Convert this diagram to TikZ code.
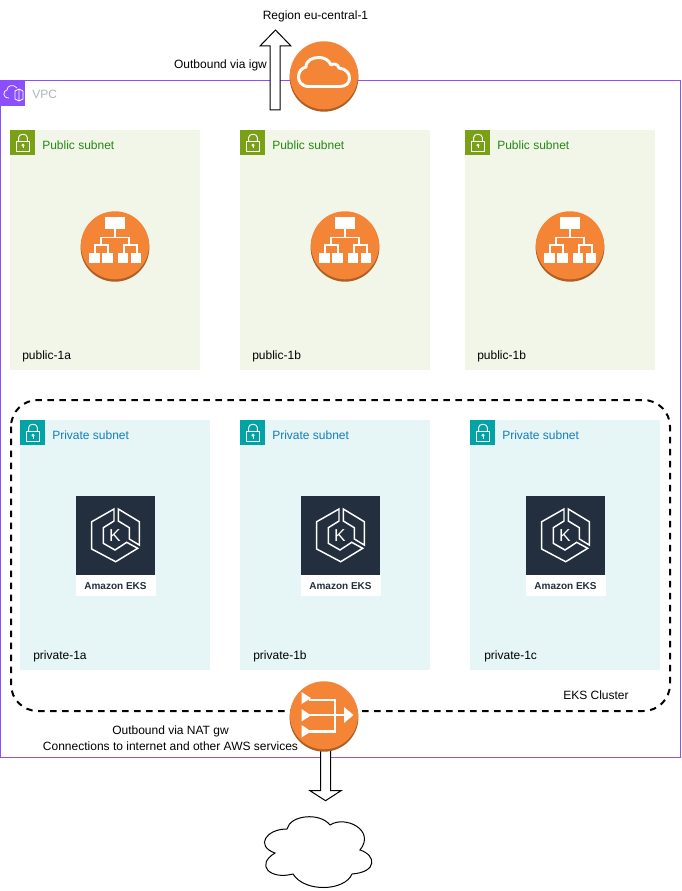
\documentclass[tikz,border=0pt]{standalone}
\usepackage{fontspec}
\setmainfont{Liberation Sans}
\usetikzlibrary{calc}
\definecolor{vpcpurple}{HTML}{8C4FFF}
\definecolor{awsorange}{HTML}{F58536}
\definecolor{awsdark}{HTML}{AE5F26}
\definecolor{pubfill}{HTML}{F2F6E8}
\definecolor{pubicon}{HTML}{7AA116}
\definecolor{pubtext}{HTML}{248814}
\definecolor{privfill}{HTML}{E6F6F7}
\definecolor{privicon}{HTML}{00A4A6}
\definecolor{privtext}{HTML}{147EBA}
\definecolor{eksnavy}{HTML}{232F3E}
\definecolor{vpcgrey}{HTML}{AAB7B8}
\tikzset{
  txt/.style={font=\fontsize{9}{11}\selectfont, inner sep=0pt, text=black, yshift=-1pt},
  lefttxt/.style={txt, anchor=west},
  subnetbox/.style={anchor=north west, inner sep=0pt, minimum width=142.5pt},
  hdricon/.style={anchor=north west, inner sep=0pt, minimum width=18.75pt, minimum height=18.75pt},
  whitestroke/.style={draw=white, line width=1.1pt, line join=miter},
  thinwhite/.style={draw=white, line width=0.7pt, line join=miter},
  orangedisc/.style={circle, fill=awsorange, inner sep=0pt, minimum size=51pt},
  blockarrow/.style={draw=black, fill=white, line width=0.75pt, line join=miter},
  lockpic/.pic={
    \draw[thinwhite] (6.3,11.3) rectangle (19.6,21.5);
    \draw[thinwhite] (8.6,11.3) -- (8.6,7.5) .. controls (8.6,3.2) and (17.3,3.2) .. (17.3,7.5) -- (17.3,11.3);
    \draw[white, line width=0.5pt] (13,15.2) circle (1.1);
    \draw[white, line width=0.5pt] (13,16.3) -- (13,18.5);
  },
  lbpic/.pic={
    \fill[white] (-9.7,-28.7) rectangle (10.3,-16.7);
    \draw[whitestroke, line width=1.2pt] (0,-16.7) -- (0,-8.7);
    \draw[whitestroke, line width=1.2pt] (-14.3,-1) -- (-14.3,-8.7) -- (14,-8.7) -- (14,-1);
    \draw[whitestroke, line width=1.2pt] (-20,8) -- (-20,-1) -- (-7.3,-1) -- (-7.3,8);
    \draw[whitestroke, line width=1.2pt] (9,8) -- (9,-1) -- (21.7,-1) -- (21.7,8);
    \fill[white] (-25.7,7.3) rectangle (-15,17.3);
    \fill[white] (-12.7,7.3) rectangle (-2.3,17.3);
    \fill[white] (3,7.3) rectangle (13.3,17.3);
    \fill[white] (16,7.3) rectangle (26.3,17.3);
  },
  ekspic/.pic={
    \draw[white, line width=1.1pt, line join=miter]
      (-1,-26) -- (-23.3,-13.3) -- (-23.3,14) -- (0.7,26.7) -- (22.7,13.3) -- (11.7,7.3)
      -- (0,15) -- (-11.7,8.3) -- (-11.7,-7.3) -- (-1,-14) -- cycle;
    \draw[white, line width=1.1pt, line join=miter]
      (3.3,-26) -- (24.3,-13.3) -- (24.3,10) -- (14.3,4) -- (14.3,-7.3) -- (3.3,-14) -- cycle;
    \node[inner sep=0pt, text=white, font=\fontsize{13}{14}\selectfont] at (0,0.5) {K};
  }
}
\newcommand{\disc}[2]{% name, position
  \fill[awsdark] ($#2+(0,1.3)$) circle (34.4);
  \node[orangedisc] (#1) at ($#2+(0,-0.7)$) {};
}
\begin{document}
\begin{tikzpicture}[x=0.75pt,y=-0.75pt]
\useasboundingbox (0,0) rectangle (681,891);
\fill[white] (0,0) rectangle (681,891);

% VPC
\draw[vpcpurple, line width=0.75pt] (0.5,80.5) rectangle (680.5,757);
\node[hdricon, fill=vpcpurple] (vpcicon) at (0,80.5) {};
\draw[white, line width=0.55pt]
  (9,98) .. controls (2,98) and (3,90.5) .. (7,90) .. controls (7,85) and (14,84) .. (17,88);
\draw[white, line width=0.55pt] (15,91) -- (19,89) -- (23,91) -- (23,99) -- (19,101) -- (15,99) -- cycle (19,89) -- (19,101);
\node[lefttxt, text=vpcgrey] (vpclabel) at (32,93.5) {VPC};

% Public subnets
\foreach \n/\x/\t in {a/10/public-1a, b/240/public-1b, c/465/public-1b}{
  \node[subnetbox, fill=pubfill, minimum height=180pt] (pub\n) at (\x,130) {};
  \node[hdricon, fill=pubicon] (pubicon\n) at (\x,130) {};
  \pic at (\x,130) {lockpic};
  \node[lefttxt, text=pubtext] (pubhead\n) at (\x+32,143.5) {Public subnet};
  \node[lefttxt] (publabel\n) at (\x+12,355) {\t};
}

% Private subnets
\foreach \n/\x/\lx/\t in {a/20/33/private-1a, b/240/253/private-1b, c/470/484/private-1c}{
  \node[subnetbox, fill=privfill, minimum height=187.5pt] (priv\n) at (\x,420) {};
  \node[hdricon, fill=privicon] (privicon\n) at (\x,420) {};
  \pic at (\x,420) {lockpic};
  \node[lefttxt, text=privtext] (privhead\n) at (\x+32,433.5) {Private subnet};
  \node[lefttxt] (privlabel\n) at (\lx,655) {\t};
}

% EKS tiles
\foreach \n/\x in {a/76, b/301, c/526}{
  \fill[white] (\x,575) rectangle (\x+79.5,596);
  \node[anchor=north west, fill=eksnavy, inner sep=0pt, minimum width=59.25pt, minimum height=59.25pt] (eks\n) at (\x,496) {};
  \pic at (\x+39,535) {ekspic};
  \node[inner sep=0pt, text=eksnavy, font=\fontsize{7.5}{9}\selectfont\bfseries] (ekslabel\n) at (\x+39.5,586.5) {Amazon EKS};
}

% EKS cluster outline
\draw[black, line width=1.5pt, rounded corners=20pt, dash pattern=on 4.8pt off 4.2pt]
  (11,400) rectangle (670,711);
\node[lefttxt] (ekscluster) at (563,694) {EKS Cluster};

% Block arrows
\coordinate (igwtail) at (275,110);
\coordinate (igwtip) at (275.5,30);
\draw[blockarrow] ($(igwtail)+(-5,0)$) -- ($(igwtip)+(-5.5,16)$) -- ($(igwtip)+(-15.5,16)$) -- (igwtip)
  -- ($(igwtip)+(15.5,16)$) -- ($(igwtip)+(4.5,16)$) -- ($(igwtail)+(5,0)$) -- cycle;
\coordinate (nattail) at (325.5,750);
\coordinate (nattip) at (325.5,800.7);
\draw[blockarrow] ($(nattail)+(-5,0)$) -- ($(nattip)+(-5,-10)$) -- ($(nattip)+(-15.5,-10)$) -- (nattip)
  -- ($(nattip)+(15.5,-10)$) -- ($(nattip)+(5,-10)$) -- ($(nattail)+(5,0)$) -- cycle;

% Internet gateway
\disc{igw}{(324,76)}
\draw[white, line width=2.2pt, line join=round]
  (309,86.5) .. controls (301,86.5) and (298.5,81) .. (298.5,77)
  .. controls (298.5,71) and (302,68) .. (306,67)
  .. controls (306,60) and (313,57.5) .. (319,57.5)
  .. controls (324,57.5) and (329,60) .. (331,65)
  .. controls (333,63) and (338,64) .. (339,68)
  .. controls (346,69) and (349.5,73) .. (349.5,78)
  .. controls (349.5,83) and (346,86.5) .. (340,86.5) -- cycle;

% Load balancers
\foreach \n/\x in {a/115, b/345, c/570}{
  \disc{lb\n}{(\x,246)}
  \pic at (\x,246) {lbpic};
}

% NAT gateway
\disc{nat}{(324,716)}
\draw[white, line width=2.2pt, line join=miter]
  (309,700) -- (335,700) -- (335,731.7) -- (309,731.7);
\draw[white, line width=2.2pt] (309,715) -- (345,715);
\fill[white] (301.5,692) -- (311,698.2) -- (301.5,704) -- cycle;
\fill[white] (301.5,709) -- (311,715.3) -- (301.5,721.5) -- cycle;
\fill[white] (301.5,725) -- (311,731.3) -- (301.5,737.5) -- cycle;
\fill[white] (344,707) -- (353.5,715) -- (344,723) -- cycle;

% Internet cloud
\draw[black, line width=0.75pt, fill=white]
  (275,853) .. controls (255,846) and (266,829) .. (287,829)
  .. controls (290,815) and (320,812) .. (330,825)
  .. controls (345,815) and (376,830) .. (360,850)
  .. controls (376,855) and (378,872) .. (352,874)
  .. controls (345,891) and (305,893) .. (293,874)
  .. controls (270,880) and (255,865) .. (275,853) -- cycle;

% Free labels
\node[txt] (region) at (315.5,15) {Region eu-central-1};
\node[txt] (igwlabel) at (220.5,64) {Outbound via igw};
\node[txt] (natlabel1) at (170.5,730) {Outbound via NAT gw};
\node[txt] (natlabel2) at (170.5,745) {Connections to internet and other AWS services};
\end{tikzpicture}
\end{document}
